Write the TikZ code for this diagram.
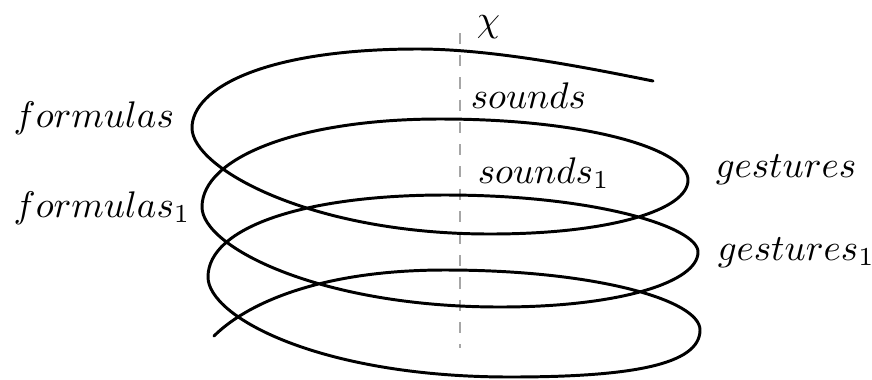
\documentclass[tikz,border=0pt]{standalone}
\begin{document}
\begin{tikzpicture}[x=0.27pt,y=-0.27pt,
  spiral/.style={line width=0.8pt, line join=round, line cap=round},
  axisline/.style={gray!70, line width=0.45pt, dashed},
  lbl/.style={inner sep=0pt, anchor=base west}]
\useasboundingbox (0,0) rectangle (872,379);
% axis
\coordinate (axtop) at (460,33);
\coordinate (axbot) at (460,348);
\draw[axisline] (axtop) -- (axbot);
% spiral
\draw[spiral] (653,81) .. controls (593,69) and (495,49) .. (418,49)
 .. controls (265,49) and (192,88) .. (192,128)
 .. controls (192,168) and (310,234) .. (490,234)
 .. controls (610,234) and (688,210) .. (688,180)
 .. controls (688,150) and (590,119) .. (440,119)
 .. controls (300,119) and (202,157) .. (202,207)
 .. controls (202,247) and (320,307) .. (500,307)
 .. controls (620,307) and (698,282) .. (698,252)
 .. controls (698,227) and (595,195) .. (445,195)
 .. controls (305,195) and (208,227) .. (208,277)
 .. controls (208,317) and (320,377) .. (510,377)
 .. controls (630,377) and (700,365) .. (700,330)
 .. controls (700,300) and (595,270) .. (445,270)
 .. controls (315,270) and (244,306) .. (214,336);
% labels
\node[lbl] (chi) at (476,31) {$\chi$};
\node[lbl] (snd) at (470,108) {$sounds$};
\node[lbl] (snd1) at (477,183) {$sounds_1$};
\node[lbl] (frm) at (13,127) {$formulas$};
\node[lbl] (frm1) at (13,217) {$formulas_1$};
\node[lbl] (gst) at (715,177) {$gestures$};
\node[lbl] (gst1) at (717,260) {$gestures_1$};
\end{tikzpicture}
\end{document}
